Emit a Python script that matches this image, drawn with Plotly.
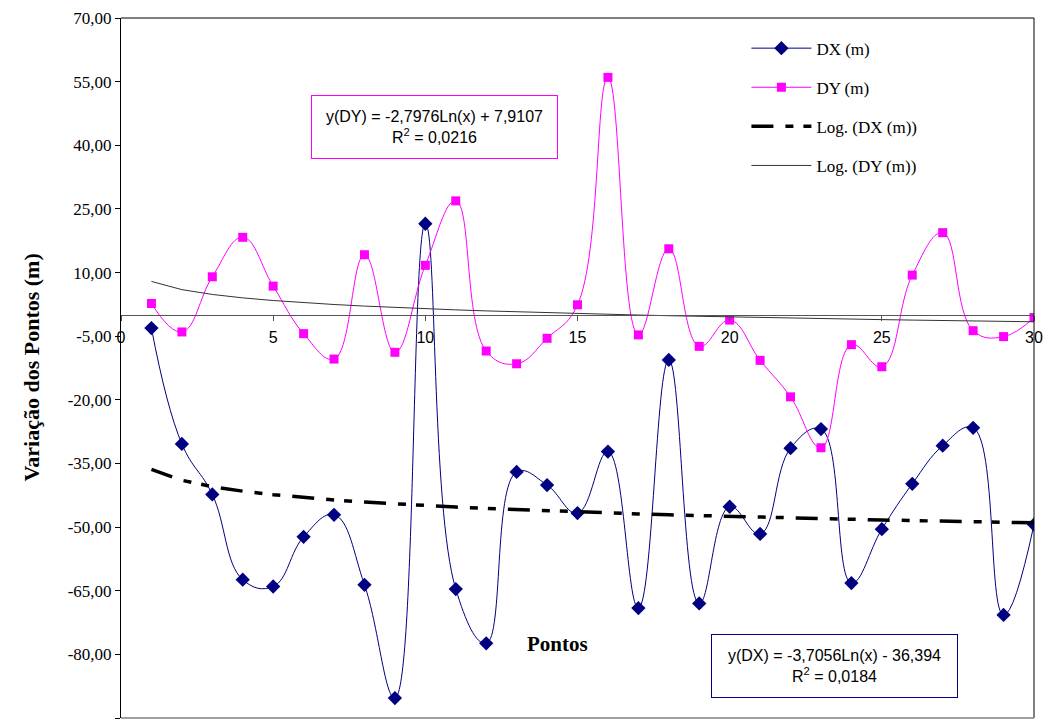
import numpy as np
import plotly.graph_objects as go

# Survey points and their displacement components (m)
pontos = list(range(1, 31))
dx_m = [-3.1, -30.4, -42.3, -62.4, -64.0, -52.3, -47.1, -63.6, -90.3, 21.5,
        -64.6, -77.4, -37.0, -40.1, -46.7, -32.2, -69.1, -10.6, -68.0, -45.2,
        -51.6, -31.4, -26.9, -63.2, -50.5, -39.8, -30.8, -26.6, -70.7, -49.4]
dy_m = [2.7, -4.0, 9.0, 18.3, 6.8, -4.4, -10.4, 14.2, -8.8, 11.7,
        26.9, -8.5, -11.5, -5.5, 2.4, 56.0, -4.7, 15.6, -7.4, -1.2,
        -10.7, -19.3, -31.3, -7.0, -12.2, 9.4, 19.4, -3.7, -5.1, -0.6]

# Logarithmic trend coefficients: y = a*ln(x) + b
dx_log_a, dx_log_b, dx_r2 = -3.7056, -36.394, 0.0184
dy_log_a, dy_log_b, dy_r2 = -2.7976, 7.9107, 0.0216

# Axis ticks
y_ticks = [70, 55, 40, 25, 10, -5, -20, -35, -50, -65, -80, -95]
x_ticks = [0, 5, 10, 15, 20, 25, 30]

def br(v, nd):
    return f"{v:.{nd}f}".replace(".", ",")

xs = np.array(pontos, dtype=float)
dx_trend = dx_log_a * np.log(xs) + dx_log_b
dy_trend = dy_log_a * np.log(xs) + dy_log_b

SERIF = "Liberation Serif, Times New Roman, serif"
SANS = "Liberation Sans, Arial, sans-serif"

fig = go.Figure()
fig.add_trace(go.Scatter(
    x=pontos, y=dx_m, name="DX (m)", legendgroup="a",
    mode="lines+markers", line=dict(color="#000080", width=1, shape="spline", smoothing=1.2),
    marker=dict(symbol="diamond", size=11, color="#000080")))
fig.add_trace(go.Scatter(
    x=pontos, y=dy_m, name="DY (m)", legendgroup="b",
    mode="lines+markers", line=dict(color="#FF00FF", width=1, shape="spline", smoothing=1.2),
    marker=dict(symbol="square", size=9, color="#FF00FF")))
fig.add_trace(go.Scatter(
    x=pontos, y=dx_trend, name="Log. (DX (m))", legendgroup="c",
    mode="lines", line=dict(color="black", width=3.5, dash="22px,12px,8px,10px,8px,12px")))
fig.add_trace(go.Scatter(
    x=pontos, y=dy_trend, name="Log. (DY (m))", legendgroup="d",
    mode="lines", line=dict(color="#333333", width=1)))

y0 = min(y_ticks)
y1 = max(y_ticks)

fig.update_layout(
    width=1052, height=727,
    margin=dict(l=121, r=12, t=12, b=9),
    paper_bgcolor="white", plot_bgcolor="white",
    showlegend=True,
    legend=dict(x=0.685, y=0.982, xanchor="left", yanchor="top",
                traceorder="grouped", tracegroupgap=14, itemwidth=60,
                font=dict(family=SERIF, size=17, color="black"),
                bgcolor="rgba(0,0,0,0)"),
    xaxis=dict(range=[0, 30], tickvals=x_ticks, ticktext=[str(t) for t in x_ticks],
               anchor="free", position=(0 - y0) / (y1 - y0),
               showline=True, linecolor="#555555", linewidth=1,
               ticks="outside", ticklen=5, tickcolor="#555555",
               ticklabelstandoff=3,
               showgrid=False, zeroline=False,
               tickfont=dict(family=SANS, size=16, color="black")),
    yaxis=dict(range=[y0, y1], tickvals=y_ticks, ticktext=[br(t, 2) for t in y_ticks],
               showline=True, linecolor="black", linewidth=1,
               ticks="outside", ticklen=5, tickcolor="black",
               showgrid=False, zeroline=False,
               tickfont=dict(family=SERIF, size=17, color="black")),
    shapes=[
        dict(type="line", xref="paper", yref="paper", x0=0, x1=1, y0=1, y1=1,
             line=dict(color="black", width=1)),
        dict(type="line", xref="paper", yref="paper", x0=1, x1=1, y0=0, y1=1,
             line=dict(color="black", width=1)),
        dict(type="line", xref="paper", yref="paper", x0=0, x1=1, y0=0, y1=0,
             line=dict(color="#808080", width=1.5)),
    ],
    annotations=[
        dict(text="<b>Variação dos Pontos (m)</b>", xref="paper", yref="paper",
             x=(30 - 121) / 919, y=0.5, textangle=-90, showarrow=False,
             font=dict(family=SERIF, size=22, color="black"),
             xanchor="center", yanchor="middle"),
        dict(text="<b>Pontos</b>", xref="paper", yref="paper",
             x=(560 - 121) / 919, y=(718 - 643) / 706, showarrow=False,
             font=dict(family=SERIF, size=21, color="black"),
             xanchor="center", yanchor="middle"),
        dict(text=f"y(DY) = {br(dy_log_a, 4)}Ln(x) + {br(dy_log_b, 4)}<br>R<sup>2</sup> = {br(dy_r2, 4)}",
             xref="paper", yref="paper", x=(436.5 - 121) / 919, y=(718 - 122) / 706,
             showarrow=False, align="center", width=241, height=58, borderpad=2,
             bordercolor="#FF00FF", borderwidth=1, bgcolor="white",
             font=dict(family=SANS, size=16, color="black"),
             xanchor="center", yanchor="middle"),
        dict(text=f"y(DX) = {br(dx_log_a, 4)}Ln(x) - {br(-dx_log_b, 3)}<br>R<sup>2</sup> = {br(dx_r2, 4)}",
             xref="paper", yref="paper", x=(839 - 121) / 919, y=(718 - 666) / 706,
             showarrow=False, align="center", width=241, height=58, borderpad=2,
             bordercolor="#000080", borderwidth=1, bgcolor="white",
             font=dict(family=SANS, size=16, color="black"),
             xanchor="center", yanchor="middle"),
    ],
)

fig.write_html("out.html")
